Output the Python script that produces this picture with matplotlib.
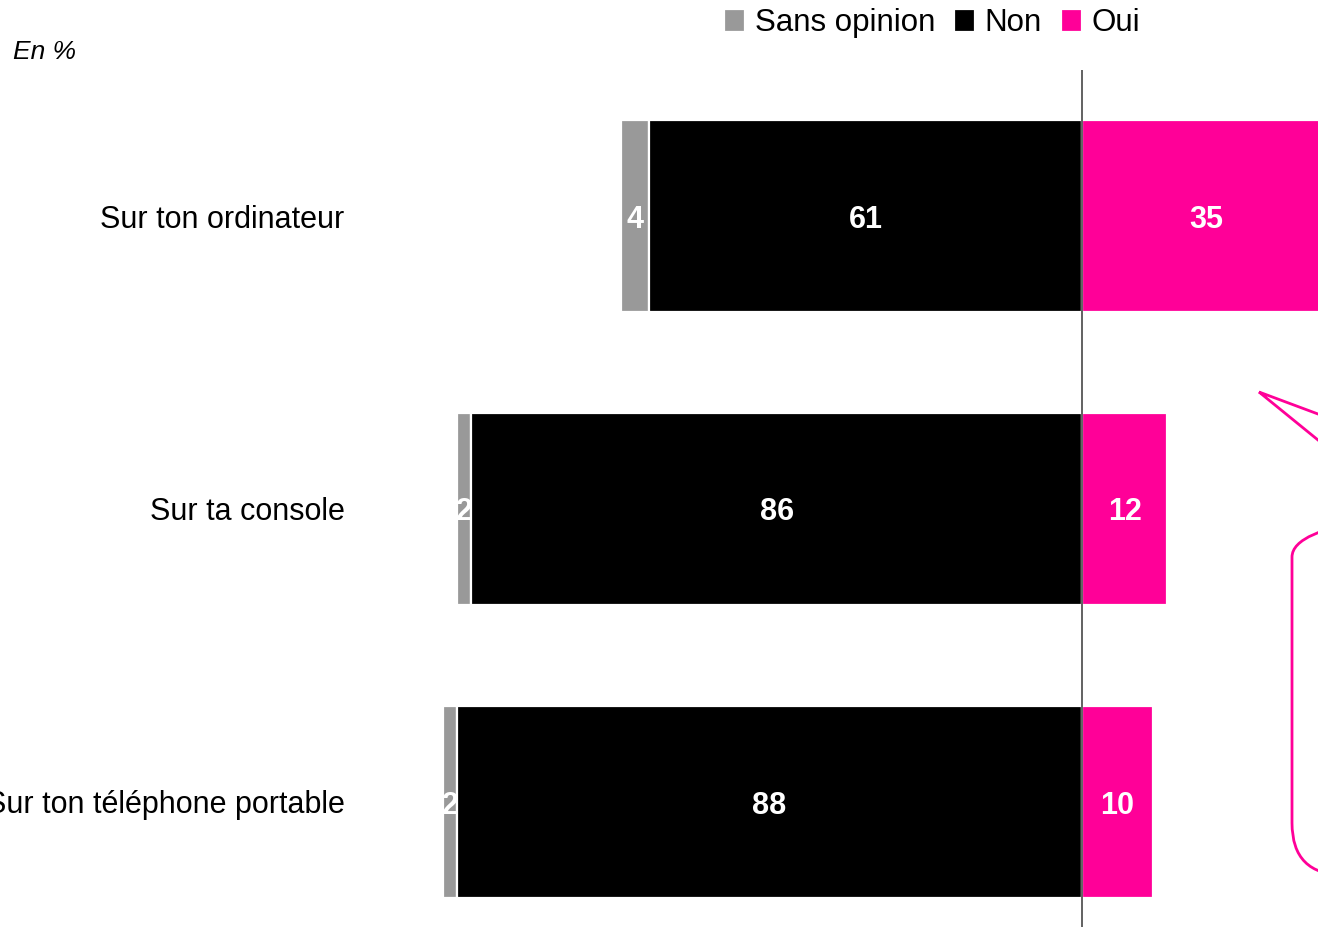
import matplotlib
matplotlib.use("Agg")
import matplotlib.pyplot as plt
from matplotlib.patches import FancyBboxPatch, Polygon
from matplotlib.transforms import IdentityTransform

plt.rcParams['font.family'] = ['Liberation Sans', 'DejaVu Sans']

categories = ["Sur ton ordinateur", "Sur ta console", "Sur ton téléphone portable"]
sans_opinion = [4, 2, 2]
non = [61, 86, 88]
oui = [35, 12, 10]
series_names = ["Sans opinion", "Non", "Oui"]

GREY = "#999999"
BLACK = "#000000"
PINK = "#FF0098"

W, H = 1318, 927
fig = plt.figure(figsize=(W / 100, H / 100), dpi=100)

# axes: left edge at px 400, right edge at figure edge; top at px 70
ax_left, ax_top = 400, 70
ax = fig.add_axes([ax_left / W, 0, 1 - ax_left / W, 1 - ax_top / H])

scale = 7.1  # pixels per percentage point
zero_px = 1082
ax.set_xlim((ax_left - zero_px) / scale, (W - zero_px) / scale)
ax.set_ylim(2 + (H - 802) / 293, -(216 - ax_top) / 293)

y = list(range(len(categories)))
h = 0.655
edge = dict(edgecolor="white", linewidth=1.6)

non_left = [-v for v in non]
so_left = [-(a + b) for a, b in zip(non, sans_opinion)]
b_so = ax.barh(y, sans_opinion, left=so_left, height=h, color=GREY, label=series_names[0], **edge)
b_non = ax.barh(y, non, left=non_left, height=h, color=BLACK, label=series_names[1], **edge)
b_oui = ax.barh(y, oui, left=0, height=h, color=PINK, label=series_names[2], **edge)

lab = dict(color="white", fontsize=22, fontweight="bold", ha="center", va="center_baseline")
for i in y:
    ax.text(so_left[i] + sans_opinion[i] / 2, i, str(sans_opinion[i]), **lab)
    ax.text(non_left[i] + non[i] / 2, i, str(non[i]), **lab)
    ax.text(oui[i] / 2, i, str(oui[i]), clip_on=True, **lab)

ax.axvline(0, color="#555555", linewidth=1.3, zorder=5)

ax.set_yticks(y)
ax.set_yticklabels(categories, fontsize=22)
ax.tick_params(axis="y", length=0, pad=40)
ax.set_xticks([])
for s in ax.spines.values():
    s.set_visible(False)

fig.legend(handles=[b_so, b_non, b_oui], labels=series_names, loc="center",
           bbox_to_anchor=(932 / W, 1 - 23 / H), ncol=3, frameon=False,
           fontsize=22.5, handlelength=0.68, handleheight=0.75,
           handletextpad=0.3, columnspacing=0.6, borderpad=0, borderaxespad=0)

fig.text(13 / W, 1 - 52 / H, "En %", fontsize=19, style="italic", va="center", ha="left")

# speech bubble on the right (drawn in pixel space, y measured from bottom)
r = 52
top, bottom, left = 505, 875, 1292
bubble = FancyBboxPatch((left + r, H - bottom + r), 300, (bottom - top) - 2 * r,
                        boxstyle=f"round,pad={r},rounding_size={r}",
                        transform=IdentityTransform(),
                        facecolor="none", edgecolor=PINK, linewidth=2)
fig.patches.append(bubble)

tip = (1259, 392)
p1 = (1318 + (1318 - 1259) * 0.6, 414 + (414 - 392) * 0.6)
p2 = (1318 + (1318 - 1259) * 0.6, 440 + (440 - 392) * 0.6)
pointer = Polygon([(tip[0], H - tip[1]), (p1[0], H - p1[1]), (p2[0], H - p2[1])],
                  closed=True, transform=IdentityTransform(),
                  facecolor="none", edgecolor=PINK, linewidth=2)
fig.patches.append(pointer)

fig.savefig("out.png", dpi=100)
